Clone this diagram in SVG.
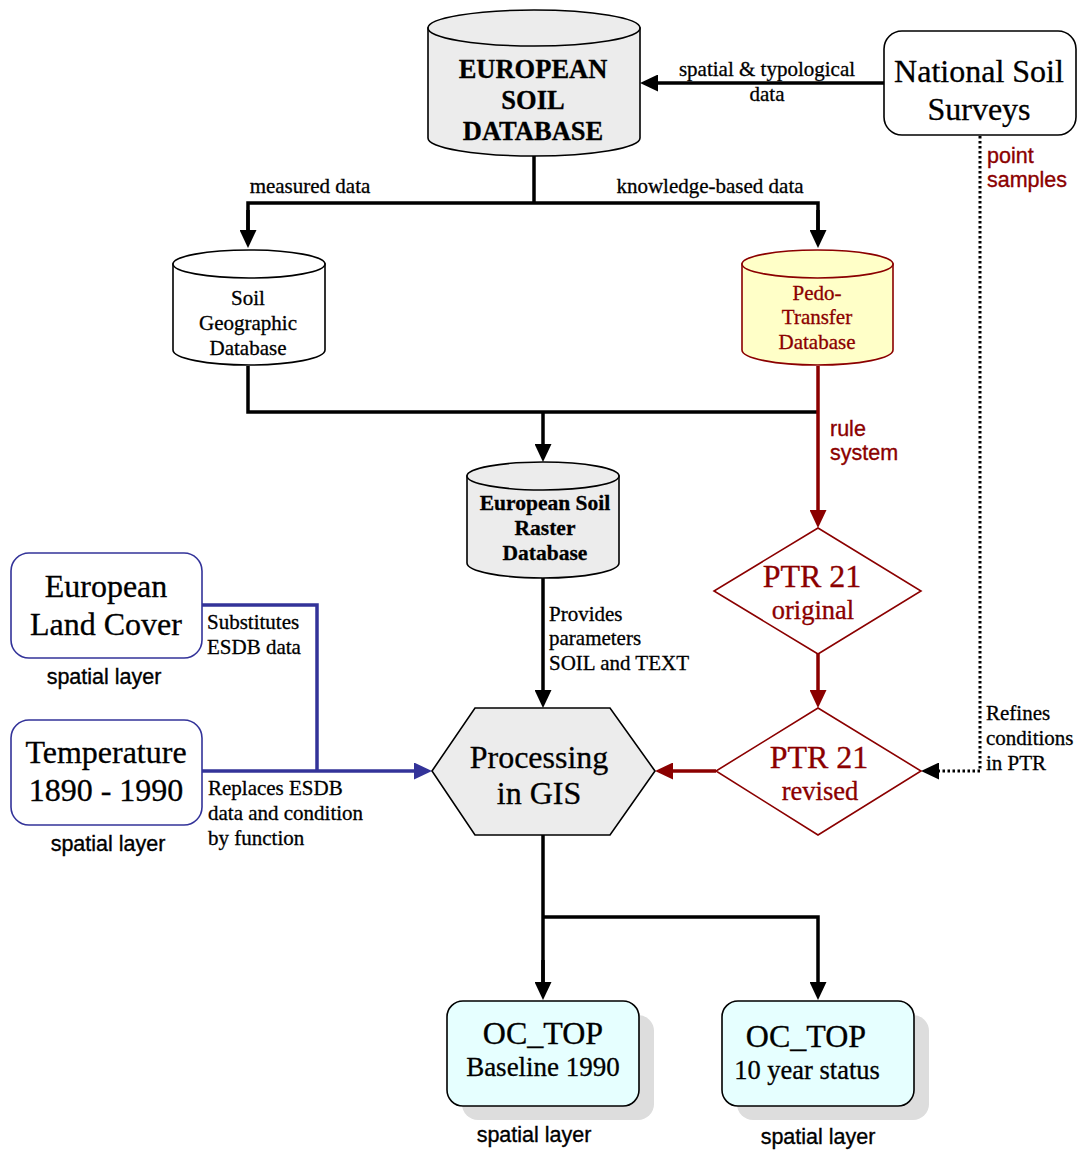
<svg xmlns="http://www.w3.org/2000/svg" width="1082" height="1151" viewBox="0 0 1082 1151">
<style>
.serif{font-family:"Liberation Serif","Times New Roman",serif;fill:#000;stroke:#000;stroke-width:0.3}
.sans{font-family:"Liberation Sans",Arial,sans-serif;fill:#000;stroke:#000;stroke-width:0.35}
.red{fill:#8b0000;stroke:#8b0000}
.bold{font-weight:bold}
.mid{text-anchor:middle}
.lbl{font-size:21px}
.big{font-size:32px}
.cyl{stroke:#000;stroke-width:1.6}
.conn{fill:none;stroke:#000;stroke-width:3.5}
.connr{fill:none;stroke:#8b0000;stroke-width:3.5}
.connb{fill:none;stroke:#333399;stroke-width:3.5}
.dot{fill:none;stroke:#000;stroke-width:3;stroke-dasharray:2.5,2.5}
</style>
<defs>
<marker id="ab" markerUnits="userSpaceOnUse" markerWidth="19" markerHeight="17" viewBox="0 0 19 17" refX="14" refY="8.5" orient="auto"><path d="M0,0 L18,8.5 L0,17 Z" fill="#000"/></marker>
<marker id="ar" markerUnits="userSpaceOnUse" markerWidth="19" markerHeight="17" viewBox="0 0 19 17" refX="14" refY="8.5" orient="auto"><path d="M0,0 L18,8.5 L0,17 Z" fill="#8b0000"/></marker>
<marker id="abl" markerUnits="userSpaceOnUse" markerWidth="19" markerHeight="17" viewBox="0 0 19 17" refX="14" refY="8.5" orient="auto"><path d="M0,0 L18,8.5 L0,17 Z" fill="#333399"/></marker>
</defs>

<g id="connectors">
<path class="conn" d="M884,83 H644" marker-end="url(#ab)"/>
<path class="conn" d="M534,156 V203"/>
<path class="conn" d="M248,244 V203 H818 V244"/>
<path class="conn" d="M248,210 V244" marker-end="url(#ab)"/>
<path class="conn" d="M818,210 V244" marker-end="url(#ab)"/>
<path class="conn" d="M248,366 V412 H818"/>
<path class="conn" d="M543,412 V458" marker-end="url(#ab)"/>
<path class="connr" d="M818,366 V524" marker-end="url(#ar)"/>
<path class="connr" d="M818,654 V704" marker-end="url(#ar)"/>
<path class="connr" d="M716,771 H659" marker-end="url(#ar)"/>
<path class="conn" d="M543,578 V704" marker-end="url(#ab)"/>
<path class="dot" d="M980,136 V771 H925" marker-end="url(#ab)"/>
<path class="connb" d="M202,605 H317 V771"/>
<path class="connb" d="M202,771 H428" marker-end="url(#abl)"/>
<path class="conn" d="M543,835 V996"/>
<path class="conn" d="M543,917 H818 V996" marker-end="url(#ab)"/>
<path class="conn" d="M543,960 V996" marker-end="url(#ab)"/>
<text class="serif lbl mid" x="767" y="76">spatial &amp; typological</text>
<text class="serif lbl mid" x="767" y="101">data</text>
<text class="serif lbl mid" x="310" y="193">measured data</text>
<text class="serif lbl mid" x="710" y="193">knowledge-based data</text>
<text class="sans red" x="830" y="436" font-size="21.5">rule</text>
<text class="sans red" x="830" y="460" font-size="21.5">system</text>
<text class="sans red" x="987" y="163" font-size="21.5">point</text>
<text class="sans red" x="987" y="187" font-size="21.5">samples</text>
<text class="serif lbl" x="549" y="621">Provides</text>
<text class="serif lbl" x="549" y="645">parameters</text>
<text class="serif lbl" x="549" y="670">SOIL and TEXT</text>
<text class="serif lbl" x="986" y="720">Refines</text>
<text class="serif lbl" x="986" y="745">conditions</text>
<text class="serif lbl" x="986" y="770">in PTR</text>
<text class="serif lbl" x="207" y="629">Substitutes</text>
<text class="serif lbl" x="207" y="654">ESDB data</text>
<text class="serif lbl" x="208" y="795">Replaces ESDB</text>
<text class="serif lbl" x="208" y="820">data and condition</text>
<text class="serif lbl" x="208" y="845">by function</text>
</g>

<g id="esdb">
<path class="cyl" fill="#ececec" d="M428,28 V138 A106,18 0 0 0 640,138 V28 Z"/>
<ellipse class="cyl" fill="#ececec" cx="534" cy="28" rx="106" ry="18"/>
<text class="serif bold mid" x="533" y="78" font-size="26.5">EUROPEAN</text>
<text class="serif bold mid" x="533" y="109" font-size="26.5">SOIL</text>
<text class="serif bold mid" x="533" y="140" font-size="26.5">DATABASE</text>
</g>

<g id="nss">
<rect x="884" y="31" width="192" height="104" rx="18" fill="#fff" stroke="#000" stroke-width="1.6"/>
<text class="serif big mid" x="979" y="82">National Soil</text>
<text class="serif big mid" x="979" y="120">Surveys</text>
</g>

<g id="sgdb">
<path class="cyl" fill="#fff" d="M173,264 V350 A76,15 0 0 0 325,350 V264 Z"/>
<ellipse class="cyl" fill="#fff" cx="249" cy="264" rx="76" ry="14"/>
<text class="serif lbl mid" x="248" y="305">Soil</text>
<text class="serif lbl mid" x="248" y="330">Geographic</text>
<text class="serif lbl mid" x="248" y="355">Database</text>
</g>

<g id="ptdb">
<path fill="#ffffc8" stroke="#8b0000" stroke-width="1.6" d="M742,264 V350 A75.5,15 0 0 0 893,350 V264 Z"/>
<ellipse fill="#ffffc8" stroke="#8b0000" stroke-width="1.6" cx="817.5" cy="264" rx="75.5" ry="14"/>
<text class="serif lbl red mid" x="817" y="300">Pedo-</text>
<text class="serif lbl red mid" x="817" y="324">Transfer</text>
<text class="serif lbl red mid" x="817" y="349">Database</text>
</g>

<g id="esrd">
<path class="cyl" fill="#ececec" d="M467,476 V563 A76,15 0 0 0 619,563 V476 Z"/>
<ellipse class="cyl" fill="#ececec" cx="543" cy="476" rx="76" ry="14"/>
<text class="serif bold mid" x="545" y="510" font-size="21.5">European Soil</text>
<text class="serif bold mid" x="545" y="535" font-size="21.5">Raster</text>
<text class="serif bold mid" x="545" y="560" font-size="21.5">Database</text>
</g>

<g id="ptr-original">
<polygon points="818,528 921,591 818,654 714,591" fill="#fff" stroke="#8b0000" stroke-width="1.6"/>
<text class="serif big red mid" x="812" y="587">PTR 21</text>
<text class="serif red mid" x="813" y="619" font-size="26.5">original</text>
</g>

<g id="ptr-revised">
<polygon points="818,708 921,771 818,835 716,771" fill="#fff" stroke="#8b0000" stroke-width="1.6"/>
<text class="serif big red mid" x="819" y="768">PTR 21</text>
<text class="serif red mid" x="820" y="800" font-size="26.5">revised</text>
</g>

<g id="gis">
<polygon points="432,771 475,708 610,708 655,771 610,835 475,835" fill="#ececec" stroke="#000" stroke-width="1.6"/>
<text class="serif big mid" x="539" y="768">Processing</text>
<text class="serif big mid" x="539" y="804">in GIS</text>
</g>

<g id="landcover">
<rect x="11" y="553" width="191" height="105" rx="18" fill="#fff" stroke="#333399" stroke-width="1.6"/>
<text class="serif big mid" x="106" y="597">European</text>
<text class="serif big mid" x="106" y="635">Land Cover</text>
<text class="sans mid" x="104" y="684" font-size="21.5">spatial layer</text>
</g>

<g id="temperature">
<rect x="11" y="720" width="191" height="105" rx="18" fill="#fff" stroke="#333399" stroke-width="1.6"/>
<text class="serif big mid" x="106" y="763">Temperature</text>
<text class="serif big mid" x="106" y="801">1890 - 1990</text>
<text class="sans mid" x="108" y="851" font-size="21.5">spatial layer</text>
</g>

<g id="octop-baseline">
<rect x="462" y="1015" width="192" height="105" rx="16" fill="#dddddd"/>
<rect x="447" y="1001" width="192" height="105" rx="16" fill="#e6ffff" stroke="#000" stroke-width="1.6"/>
<text class="serif big mid" x="543" y="1044">OC_TOP</text>
<text class="serif mid" x="543" y="1076" font-size="27">Baseline 1990</text>
<text class="sans mid" x="534" y="1142" font-size="21.5">spatial layer</text>
</g>

<g id="octop-status">
<rect x="737" y="1015" width="192" height="105" rx="16" fill="#dddddd"/>
<rect x="722" y="1001" width="192" height="105" rx="16" fill="#e6ffff" stroke="#000" stroke-width="1.6"/>
<text class="serif big mid" x="806" y="1047">OC_TOP</text>
<text class="serif mid" x="807" y="1079" font-size="26.5">10 year status</text>
<text class="sans mid" x="818" y="1144" font-size="21.5">spatial layer</text>
</g>
</svg>
